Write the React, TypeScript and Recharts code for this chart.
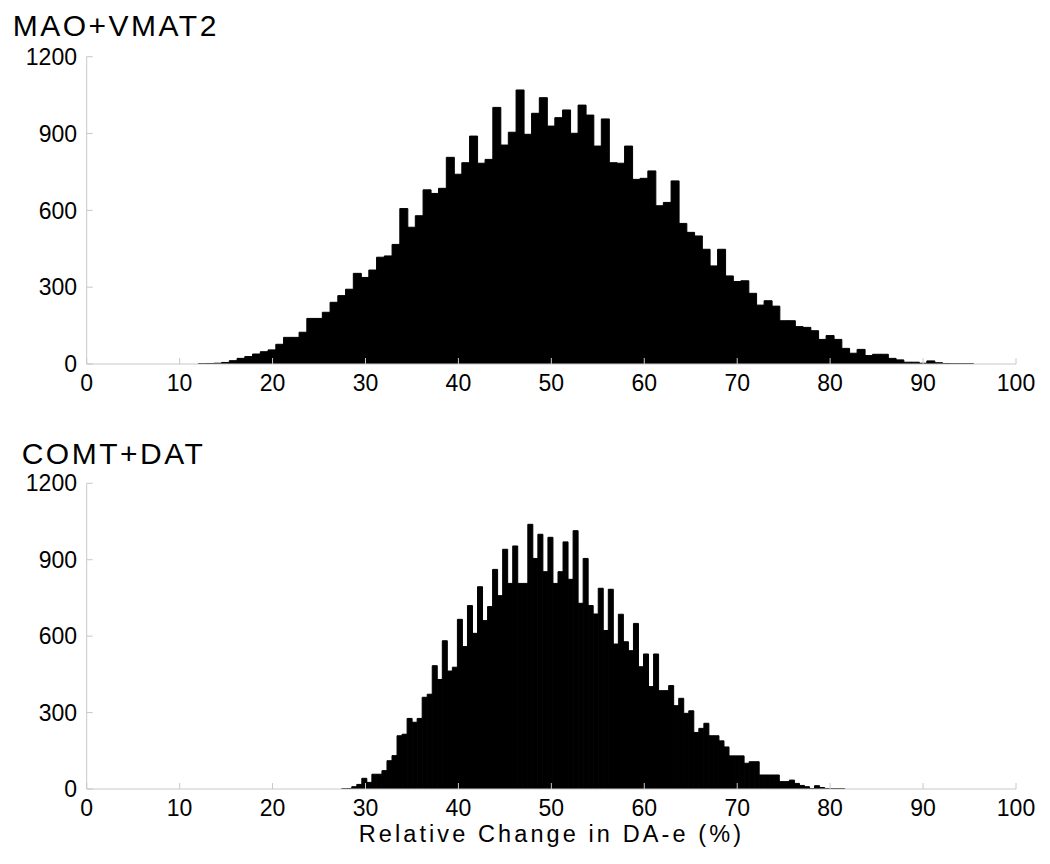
import React from 'react';
import { BarChart, Bar, XAxis, YAxis } from 'recharts';

const FONT = '"Liberation Sans", Arial, sans-serif';
const FRAME = '#c8c8c8';

const xTicks = [0, 10, 20, 30, 40, 50, 60, 70, 80, 90, 100];
const yTicks = [0, 300, 600, 900, 1200];

const titles = ['MAO+VMAT2', 'COMT+DAT'];
const xLabel = 'Relative Change in DA-e (%)';

// MAO+VMAT2 histogram: 100 bins
const maoBinStart = 12.01;
const maoBinWidth = 0.834;
const maoCounts = [
  1, 2, 3, 6, 13, 22, 29, 39, 48, 55,
  77, 104, 104, 124, 178, 178, 202, 241, 267, 292,
  354, 338, 367, 417, 422, 467, 607, 534, 579, 680,
  666, 686, 807, 741, 786, 890, 784, 799, 1002, 855,
  905, 1070, 897, 979, 1040, 929, 962, 992, 901, 1011,
  972, 851, 957, 786, 784, 851, 721, 725, 754, 618,
  631, 715, 549, 514, 500, 448, 383, 448, 344, 322,
  325, 276, 230, 247, 226, 169, 169, 146, 143, 130,
  96, 111, 96, 61, 42, 57, 33, 38, 38, 22,
  16, 7, 7, 3, 12, 5, 2, 1, 1, 1,
];

// COMT+DAT histogram: 100 bins
const comtBinStart = 27.44;
const comtBinWidth = 0.5413;
const comtCounts = [
  1, 2, 9, 18, 42, 26, 58, 58, 72, 111,
  131, 209, 215, 277, 262, 277, 360, 372, 484, 430,
  582, 463, 478, 666, 559, 720, 611, 794, 661, 716,
  862, 759, 941, 807, 954, 807, 807, 1039, 905, 1000,
  853, 988, 807, 853, 970, 823, 1014, 729, 905, 720,
  687, 788, 622, 784, 569, 686, 578, 543, 650, 480,
  530, 402, 530, 386, 386, 406, 327, 356, 297, 307,
  222, 238, 258, 209, 209, 189, 165, 130, 130, 130,
  101, 107, 107, 55, 55, 55, 55, 29, 29, 35,
  22, 14, 9, 2, 13, 6, 2, 1, 1, 1,
];

const toBins = (start: number, width: number, counts: number[]) =>
  counts.map((c, i) => ({ x: start + (i + 0.5) * width, count: c }));

const maoData = toBins(maoBinStart, maoBinWidth, maoCounts);
const comtData = toBins(comtBinStart, comtBinWidth, comtCounts);

const tickStyle = { fill: '#000', fontSize: 23, fontFamily: FONT };

function Panel({ data, top, height, marginTop }: { data: any[]; top: number; height: number; marginTop: number }) {
  return (
    <div style={{ position: 'absolute', left: 0, top, width: 1050, height }}>
      <BarChart
        width={1050}
        height={height}
        data={data}
        margin={{ top: marginTop, right: 34, bottom: 16, left: 26.7 }}
        barCategoryGap={0}
        barGap={0}
      >
        <XAxis
          xAxisId="b"
          dataKey="x"
          type="number"
          domain={[0, 100]}
          ticks={xTicks}
          interval={0}
          allowDataOverflow
          height={40}
          axisLine={{ stroke: FRAME }}
          tickLine={{ stroke: FRAME }}
          tickSize={-6}
          tickMargin={16.4}
          tick={tickStyle}
        />
        <XAxis
          xAxisId="t"
          orientation="top"
          type="number"
          domain={[0, 100]}
          ticks={xTicks}
          interval={0}
          allowDataOverflow
          height={0}
          axisLine={{ stroke: FRAME }}
          tickLine={{ stroke: FRAME }}
          tickSize={-6}
          tick={false}
        />
        <YAxis
          yAxisId="l"
          type="number"
          domain={[0, 1200]}
          ticks={yTicks}
          interval={0}
          allowDataOverflow
          width={60}
          axisLine={{ stroke: FRAME }}
          tickLine={{ stroke: FRAME }}
          tickSize={-6}
          tickMargin={15.7}
          tick={tickStyle}
        />
        <YAxis
          yAxisId="r"
          orientation="right"
          type="number"
          domain={[0, 1200]}
          ticks={yTicks}
          interval={0}
          allowDataOverflow
          width={0}
          axisLine={{ stroke: FRAME }}
          tickLine={{ stroke: FRAME }}
          tickSize={-6}
          tick={false}
        />
        <Bar
          xAxisId="b"
          yAxisId="l"
          dataKey="count"
          fill="#000"
          stroke="#000"
          strokeWidth={1}
          isAnimationActive={false}
        />
      </BarChart>
    </div>
  );
}

const titleStyle: React.CSSProperties = {
  position: 'absolute',
  fontFamily: FONT,
  fontSize: 30,
  lineHeight: '30px',
  letterSpacing: 2.5,
  color: '#000',
  whiteSpace: 'nowrap',
};

export default function App() {
  return (
    <div style={{ position: 'absolute', left: 0, top: 0, width: 1050, height: 864, background: '#fff' }}>
      <Panel data={maoData} top={0} height={420} marginTop={56.7} />
      <Panel data={comtData} top={420} height={425} marginTop={63.3} />
      <div style={{ ...titleStyle, left: 12.7, top: 11.3 }}>{titles[0]}</div>
      <div style={{ ...titleStyle, left: 21.7, top: 438.6 }}>{titles[1]}</div>
      <div
        style={{
          position: 'absolute',
          left: 151.4,
          width: 800,
          top: 824.9,
          textAlign: 'center',
          fontFamily: FONT,
          fontSize: 23.5,
          lineHeight: '18px',
          letterSpacing: 3.1,
          color: '#000',
          whiteSpace: 'nowrap',
        }}
      >
        {xLabel}
      </div>
    </div>
  );
}
